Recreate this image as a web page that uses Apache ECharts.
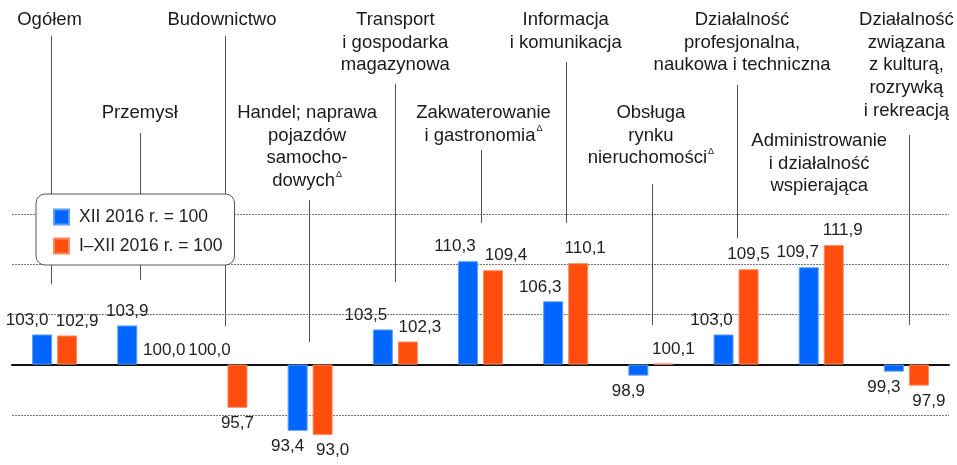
<!DOCTYPE html>
<html>
<head>
<meta charset="UTF-8">
<title></title>
<script src="https://cdn.jsdelivr.net/npm/echarts@6/dist/echarts.min.js"></script>
<style>
  html, body { margin: 0; padding: 0; background: #fff; }
  #chart { width: 957px; height: 465px; }
</style>
</head>
<body>
<div id="chart"></div>
<script>
// categories (text lines, '^' marks the small delta sign)
var categories = [
  ['Ogółem'],
  ['Przemysł'],
  ['Budownictwo'],
  ['Handel; naprawa', 'pojazdów', 'samocho-', 'dowych^'],
  ['Transport', 'i gospodarka', 'magazynowa'],
  ['Zakwaterowanie', 'i gastronomia^'],
  ['Informacja', 'i komunikacja'],
  ['Obsługa', 'rynku', 'nieruchomości^'],
  ['Działalność', 'profesjonalna,', 'naukowa i techniczna'],
  ['Administrowanie', 'i działalność', 'wspierająca'],
  ['Działalność', 'związana', 'z kulturą,', 'rozrywką', 'i rekreacją']
];
var seriesNames = ['XII 2016 r. = 100', 'I–XII 2016 r. = 100'];
var decValues = [103.0, 103.9, 100.0, 93.4, 103.5, 110.3, 106.3, 98.9, 103.0, 109.7, 99.3];
var yearValues = [102.9, 100.0, 95.7, 93.0, 102.3, 109.4, 110.1, 100.1, 109.5, 111.9, 97.9];
var baseValue = 100;

// layout of the heading texts and leader lines (pixels)
var textFirstY = [20, 113, 20, 113, 20, 113, 20, 113, 20, 141, 20];
var textShiftX = [-5, 0, -3, -3, 0, 3, 0, 0, 6, -2, 0];
var leaderTop = [36, 133, 36, 200, 84, 150, 62, 184, 85, null, 135];
var leaderBottom = [284, 280, 326, 342, 282, 223, 223, 325, 238, null, 325];
var leaderShiftX = [-4, 0, 0, -1, 0, 0, 0, 1, 1, 0, 3];
var lineH = 22.7;

// horizontal nudges of value labels
var labelShift = [
  [-15, 0, -3, -10, -17, -13, -13, -10, -12, -11, -10],
  [10, 12, 0, 10, 12, 13, 7, 10, 0, 9, 10]
];

var colors = ['#0066ff', '#ff4d0d'];
var borders = ['#5c9dff', '#ff8a61'];
var font = 'Liberation Sans, Arial, sans-serif';

function fmt(v) { return v.toFixed(1).replace('.', ','); }

function barData(values, s) {
  return values.map(function (v, i) {
    var d = +(v - baseValue).toFixed(1);
    var item = {
      value: d,
      label: {
        position: d < 0 ? 'bottom' : 'top',
        distance: d < 0 ? 7 : 6,
        offset: [labelShift[s][i], 0],
        formatter: fmt(v)
      }
    };
    if (d === 0) item.itemStyle = { borderWidth: 0, color: 'rgba(0,0,0,0)' };
    return item;
  });
}

function richText(lines) {
  return lines.map(function (l) {
    if (l.charAt(l.length - 1) === '^') {
      return l.slice(0, -1) + '{d|Δ}';
    }
    return l;
  }).join('\n');
}

var chart = echarts.init(document.getElementById('chart'));

var option = {
  animation: false,
  grid: { left: 12, top: 214, width: 937, height: 257, containLabel: false },
  legend: {
    orient: 'vertical',
    left: 36,
    top: 194,
    padding: [14, 12, 10, 17],
    itemWidth: 15,
    itemHeight: 15,
    itemGap: 11,
    backgroundColor: '#fff',
    borderColor: '#555',
    borderWidth: 1,
    borderRadius: 9,
    icon: 'rect',
    textStyle: { fontFamily: font, fontSize: 17.5, color: '#222', padding: [0, 0, 0, 5] },
    data: seriesNames
  },
  xAxis: {
    type: 'category',
    data: categories.map(function (c) { return c.join(' '); }),
    axisLine: { show: true, onZero: true, lineStyle: { color: '#111', width: 2 } },
    axisTick: { show: false },
    axisLabel: { show: false },
    splitLine: { show: false }
  },
  yAxis: {
    type: 'value',
    min: -10,
    max: 15,
    interval: 5,
    axisLabel: { show: false },
    axisTick: { show: false },
    axisLine: { show: false },
    splitLine: { lineStyle: { color: '#777', type: [2, 1], width: 1 } }
  },
  series: [
    {
      name: seriesNames[0],
      type: 'bar',
      barWidth: 20,
      barGap: '25%',
      data: barData(decValues, 0),
      itemStyle: { color: colors[0], borderColor: borders[0], borderWidth: 1 },
      label: { show: true, fontFamily: font, fontSize: 17, color: '#222' },
      z: 3
    },
    {
      name: seriesNames[1],
      type: 'bar',
      barWidth: 20,
      barGap: '25%',
      data: barData(yearValues, 1),
      itemStyle: { color: colors[1], borderColor: borders[1], borderWidth: 1 },
      label: { show: true, fontFamily: font, fontSize: 17, color: '#222' },
      z: 3
    },
    {
      type: 'custom',
      silent: true,
      data: categories.map(function (c, i) { return [i, 0]; }),
      renderItem: function (params, api) {
        var i = api.value(0);
        var x = api.coord([i, 0])[0];
        var children = [{
          type: 'text',
          style: {
            x: x + textShiftX[i],
            y: textFirstY[i] - lineH / 2,
            text: richText(categories[i]),
            align: 'center',
            verticalAlign: 'top',
            fontFamily: font,
            fontSize: 18.5,
            lineHeight: lineH,
            fill: '#1a1a1a',
            rich: {
              d: { fontSize: 9, verticalAlign: 'top', lineHeight: lineH, padding: [0, 0, 6, 1], fill: '#1a1a1a' }
            }
          }
        }];
        if (leaderTop[i] != null) {
          var lx = Math.round(x + leaderShiftX[i]) + 0.5;
          children.push({
            type: 'line',
            shape: { x1: lx, y1: leaderTop[i], x2: lx, y2: leaderBottom[i] },
            style: { stroke: '#555', lineWidth: 1 }
          });
        }
        return { type: 'group', children: children };
      },
      z: 1
    }
  ]
};

chart.setOption(option);
window.onresize = chart.resize;
</script>
</body>
</html>
